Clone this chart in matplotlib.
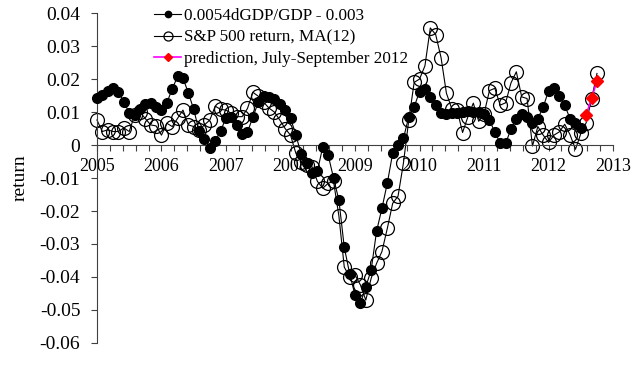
import matplotlib
matplotlib.use("Agg")
from matplotlib import pyplot as plt
from matplotlib.ticker import MultipleLocator, FuncFormatter
import numpy as np

# monthly values, starting January 2005
gdp_model = [
    0.0144, 0.0153, 0.0163, 0.0173, 0.0160, 0.0131, 0.0098, 0.0090, 0.0110, 0.0125, 0.0128, 0.0115,
    0.0105, 0.0128, 0.0170, 0.0208, 0.0203, 0.0158, 0.0108, 0.0042, 0.0018, -0.0008, 0.0012, 0.0043,
    0.0082, 0.0084, 0.0062, 0.0032, 0.0040, 0.0084, 0.0130, 0.0148, 0.0146, 0.0140, 0.0125, 0.0105,
    0.0082, 0.0030, -0.0028, -0.0055, -0.0085, -0.0080, -0.0005, -0.0030, -0.0100, -0.0167, -0.0310, -0.0390,
    -0.0455, -0.0480, -0.0430, -0.0379, -0.0262, -0.0192, -0.0116, -0.0025, 0.0001, 0.0020, 0.0086, 0.0116,
    0.0162, 0.0170, 0.0147, 0.0121, 0.0096, 0.0094, 0.0096, 0.0098, 0.0100, 0.0103, 0.0100, 0.0100,
    0.0094, 0.0075, 0.0040, 0.0005, 0.0005, 0.0048, 0.0078, 0.0094, 0.0084, 0.0066, 0.0080, 0.0115,
    0.0165, 0.0172, 0.0150, 0.0120, 0.0080, 0.0066, 0.0052,
]
sp500_ma = [
    0.0076, 0.0041, 0.0046, 0.0041, 0.0041, 0.0052, 0.0041, 0.0090, 0.0100, 0.0080, 0.0061, 0.0058,
    0.0030, 0.0066, 0.0056, 0.0081, 0.0106, 0.0061, 0.0056, 0.0046, 0.0061, 0.0076, 0.0118, 0.0108,
    0.0106, 0.0096, 0.0086, 0.0086, 0.0111, 0.0160, 0.0148, 0.0130, 0.0112, 0.0100, 0.0076, 0.0050,
    0.0030, -0.0025, -0.0050, -0.0060, -0.0066, -0.0110, -0.0131, -0.0116, -0.0110, -0.0215, -0.0370, -0.0400,
    -0.0394, -0.0424, -0.0470, -0.0404, -0.0359, -0.0323, -0.0253, -0.0177, -0.0155, -0.0055, 0.0076, 0.0190,
    0.0200, 0.0240, 0.0355, 0.0335, 0.0265, 0.0157, 0.0110, 0.0106, 0.0038, 0.0086, 0.0127, 0.0072,
    0.0095, 0.0165, 0.0172, 0.0121, 0.0128, 0.0188, 0.0222, 0.0146, 0.0141, -0.0003, 0.0056, 0.0030,
    0.0008, 0.0030, 0.0040, 0.0063, 0.0031, -0.0013, 0.0035, 0.0068, 0.0140, 0.0217,
]
prediction = [0.0092, 0.0142, 0.0194]
pred_start = 91  # month index of first prediction point

plt.rcParams['font.family'] = 'Liberation Serif'
plt.rcParams['font.size'] = 13

t_model = 2005 + np.arange(len(gdp_model)) / 12.0
t_sp = 2005 + np.arange(len(sp500_ma)) / 12.0
t_pred = 2005 + (pred_start + np.arange(len(prediction))) / 12.0

fig = plt.figure(figsize=(6.42, 3.74), dpi=100)
ax = fig.add_axes([0.151, 0.083, 0.804, 0.882])

ax.plot(t_model, gdp_model, '-o', color='black', lw=0.8, ms=7, mfc='black', mec='black',
        clip_on=False, zorder=3, label='0.0054dGDP/GDP - 0.003')
ax.plot(t_sp, sp500_ma, '-o', color='black', lw=0.8, ms=10, mfc='none', mec='black', mew=0.9,
        clip_on=False, zorder=2, label='S&P 500 return, MA(12)')
ax.plot(t_pred, prediction, '-D', color='#FF00FF', lw=1.2, ms=6, mfc='#FF0000', mec='#FF0000',
        clip_on=False, zorder=4, label='prediction, July-September 2012')

ax.set_xlim(2005, 2013)
ax.set_ylim(-0.06, 0.04)

ax.spines['top'].set_visible(False)
ax.spines['right'].set_visible(False)
ax.spines['bottom'].set_position(('data', 0))
ax.spines['left'].set_color('#404040')
ax.spines['bottom'].set_color('#404040')

ax.xaxis.set_major_locator(MultipleLocator(1))
ax.xaxis.set_minor_locator(MultipleLocator(0.2))
ax.xaxis.set_major_formatter(FuncFormatter(lambda v, p: '%d' % round(v)))
ax.yaxis.set_major_locator(MultipleLocator(0.01))
ax.yaxis.set_major_formatter(FuncFormatter(lambda v, p: '0' if abs(v) < 1e-9 else ('%.2f' % v)))

ax.tick_params(axis='x', which='both', direction='out', length=4, width=0.8, color='#404040', pad=5)
ax.tick_params(axis='y', direction='out', length=4, width=0.8, color='#404040', pad=8, labelsize=14)

ax.set_ylabel('return', labelpad=8, fontsize=14)

ax.legend(loc='upper left', bbox_to_anchor=(154 / 642, 1 - 8 / 374), bbox_transform=fig.transFigure,
          frameon=False, fontsize=12.3, markerscale=0.65, handlelength=1.6, handletextpad=0.15,
          labelspacing=0.33, borderpad=0, borderaxespad=0)

fig.savefig('out.png', dpi=100)
